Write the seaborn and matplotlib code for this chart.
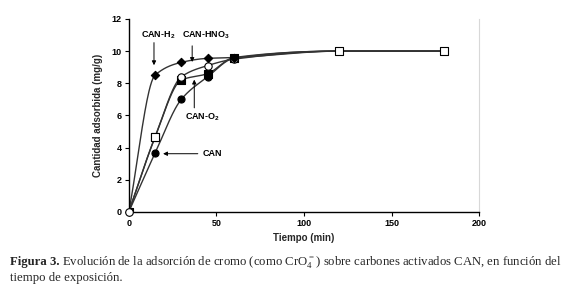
import numpy as np
import pandas as pd
import matplotlib
matplotlib.use("Agg")
import matplotlib.pyplot as plt
import seaborn as sns

# ---- data ----
tiempo = [0, 15, 30, 45, 60, 120, 180]
can_h2 = [0, 8.5, 9.3, 9.55, 9.6, 10.0, 10.0]
can_hno3 = [0, 4.65, 8.4, 9.1, 9.5, 10.0, 10.0]
can_o2 = [0, 4.65, 8.2, 8.6, 9.6, 10.0, 10.0]
can = [0, 3.65, 7.0, 8.4, 9.55, 10.0, 10.0]
series_names = ["CAN-H$_2$", "CAN-HNO$_3$", "CAN-O$_2$", "CAN"]

sns.set_theme(style="white")
plt.rcParams["font.family"] = ["Liberation Sans", "DejaVu Sans"]
plt.rcParams["mathtext.default"] = "regular"


def smooth(x, y, n=40):
    """Monotone cubic (Fritsch-Carlson) curve through the points."""
    x = np.asarray(x, float)
    y = np.asarray(y, float)
    h = np.diff(x)
    d = np.diff(y) / h
    m = np.zeros_like(y)
    m[0], m[-1] = d[0], d[-1]
    for k in range(1, len(x) - 1):
        if d[k - 1] * d[k] <= 0:
            m[k] = 0
        else:
            w1 = 2 * h[k] + h[k - 1]
            w2 = h[k] + 2 * h[k - 1]
            m[k] = (w1 + w2) / (w1 / d[k - 1] + w2 / d[k])
    xs, ys = [], []
    for k in range(len(x) - 1):
        t = np.linspace(0, 1, n)
        h00 = 2 * t**3 - 3 * t**2 + 1
        h10 = t**3 - 2 * t**2 + t
        h01 = -2 * t**3 + 3 * t**2
        h11 = t**3 - t**2
        yy = h00 * y[k] + h10 * h[k] * m[k] + h01 * y[k + 1] + h11 * h[k] * m[k + 1]
        xx = x[k] + t * h[k]
        if k > 0:
            xx, yy = xx[1:], yy[1:]
        xs.append(xx)
        ys.append(yy)
    return np.concatenate(xs), np.concatenate(ys)


fig = plt.figure(figsize=(5.8, 2.96), dpi=100)
ax = fig.add_axes([0.222, 0.284, 0.604, 0.652])

line_color = "#333333"
styles = [
    dict(marker="D", face="black", size=18),
    dict(marker="o", face="white", size=28),
    dict(marker="s", face="black", size=26),
    dict(marker="o", face="black", size=26),
]
data = [can_h2, can_hno3, can_o2, can]
for name, yv in zip(series_names, data):
    sx, sy = smooth(tiempo, yv)
    df = pd.DataFrame({"t": sx, "q": sy})
    sns.lineplot(data=df, x="t", y="q", ax=ax, color=line_color, lw=1.0,
                 sort=False, estimator=None, legend=False)

for i in [3, 2, 1, 0]:
    st = styles[i]
    df = pd.DataFrame({"t": tiempo[:5], "q": data[i][:5]})
    sns.scatterplot(data=df, x="t", y="q", ax=ax, marker=st["marker"], s=st["size"],
                    color=st["face"], edgecolor="black", linewidth=0.8, zorder=5,
                    legend=False)
# point at 15 min (open) and end points drawn as open squares
df15 = pd.DataFrame({"t": tiempo[1:2], "q": can_hno3[1:2]})
sns.scatterplot(data=df15, x="t", y="q", ax=ax, marker="s", s=30, color="white",
                edgecolor="black", linewidth=0.8, zorder=6, legend=False)
df_end = pd.DataFrame({"t": tiempo[5:], "q": can_o2[5:]})
sns.scatterplot(data=df_end, x="t", y="q", ax=ax, marker="s", s=36, color="white",
                edgecolor="black", linewidth=0.8, zorder=6, legend=False)
df0 = pd.DataFrame({"t": tiempo[:1], "q": can[:1]})
sns.scatterplot(data=df0, x="t", y="q", ax=ax, marker="o", s=30, color="white",
                edgecolor="black", linewidth=0.8, zorder=7, legend=False, clip_on=False)

ax.set_xlim(0, 200)
ax.set_ylim(0, 12)
ax.set_xticks([0, 50, 100, 150, 200])
ax.set_yticks(range(0, 13, 2))
ax.tick_params(axis="both", labelsize=6.5, length=3, width=0.8, direction="out",
               colors="black", pad=2)
for lab in ax.get_xticklabels() + ax.get_yticklabels():
    lab.set_fontweight("bold")
ax.tick_params(left=True, bottom=True)
for sp in ["left", "bottom"]:
    ax.spines[sp].set_color("black")
    ax.spines[sp].set_linewidth(1.0)
ax.spines["right"].set_color("#d8d8d8")
ax.spines["right"].set_linewidth(0.8)
ax.spines["top"].set_visible(False)
ax.set_xlabel("Tiempo (min)", fontsize=7, fontweight="bold", labelpad=4)
ax.set_ylabel("Cantidad adsorbida (mg/g)", fontsize=7, fontweight="bold", labelpad=6)

ann = dict(fontsize=6.5, fontweight="bold", color="black")
arrow = dict(arrowstyle="-|>", color="black", lw=0.7, mutation_scale=6)
ax.annotate("", xy=(14.4, 8.95), xytext=(14.4, 10.7), arrowprops=arrow)
ax.text(17, 11.0, series_names[0], ha="center", va="center", **ann)
ax.annotate("", xy=(36.2, 9.15), xytext=(36.2, 10.5), arrowprops=arrow)
ax.text(44, 11.0, series_names[1], ha="center", va="center", **ann)
ax.annotate("", xy=(37.4, 8.4), xytext=(37.4, 6.3), arrowprops=arrow)
ax.text(42, 5.9, series_names[2], ha="center", va="center", **ann)
ax.annotate("", xy=(18, 3.62), xytext=(41, 3.62), arrowprops=arrow)
ax.text(42, 3.62, series_names[3], ha="left", va="center", **ann)

cap_font = ["Liberation Serif", "DejaVu Serif"]
cap_size = 9.15
t1 = fig.text(0.017, 0.105, "Figura 3.", fontsize=cap_size, fontweight="bold",
              family=cap_font, va="baseline")
fig.canvas.draw()
bb = t1.get_window_extent()
x_next = (bb.x1 + 3) / fig.bbox.width
fig.text(x_next, 0.105,
         "Evolución de la adsorción de cromo (como CrO$_4^{=}$) sobre carbones activados CAN, en función del",
         fontsize=cap_size, family=cap_font, va="baseline")
fig.text(0.017, 0.052, "tiempo de exposición.", fontsize=cap_size, family=cap_font,
         va="baseline")

fig.savefig("out.png", dpi=100, facecolor="white")
